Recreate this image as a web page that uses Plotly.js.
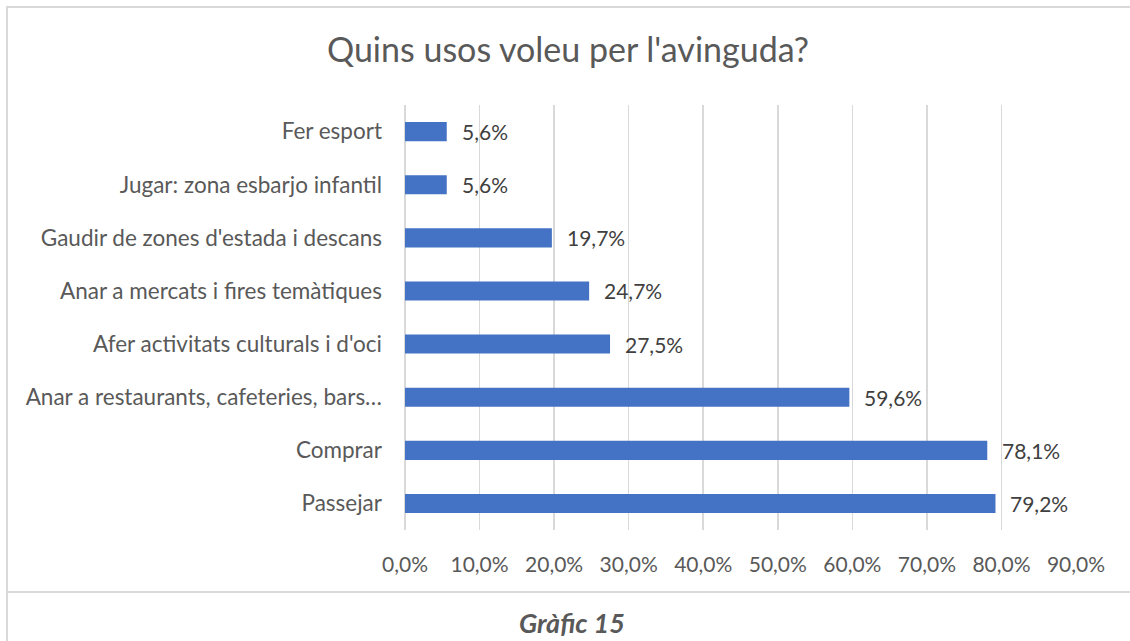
<!DOCTYPE html>
<html>
<head>
<meta charset="utf-8">
<script src="https://cdn.plot.ly/plotly-3.0.1.min.js"></script>
<style>
html,body{margin:0;padding:0;background:#fff;}
#wrap{position:relative;width:1130px;height:641px;overflow:hidden;}
#chart{position:absolute;left:0;top:0;width:1130px;height:641px;}
.bl{position:absolute;background:#d9d9d9;pointer-events:none;}
</style>
</head>
<body>
<div id="wrap">
<div id="chart"></div>
<div class="bl" style="left:6px;top:6px;width:1124px;height:2px;"></div>
<div class="bl" style="left:6px;top:6px;width:2px;height:635px;"></div>
<div class="bl" style="left:6px;top:591px;width:1124px;height:2px;"></div>
</div>
<script>
const categories = ["Fer esport", "Jugar: zona esbarjo infantil", "Gaudir de zones d'estada i descans", "Anar a mercats i fires temàtiques", "Afer activitats culturals i d'oci", "Anar a restaurants, cafeteries, bars…", "Comprar", "Passejar"];
const values = [5.6, 5.6, 19.7, 24.7, 27.5, 59.6, 78.1, 79.2];
const tickValues = [0, 10, 20, 30, 40, 50, 60, 70, 80, 90];
const tickLabels = ["0,0%", "10,0%", "20,0%", "30,0%", "40,0%", "50,0%", "60,0%", "70,0%", "80,0%", "90,0%"];
const valueLabels = ["5,6%", "5,6%", "19,7%", "24,7%", "27,5%", "59,6%", "78,1%", "79,2%"];
const chartTitle = "Quins usos voleu per l'avinguda?";
const caption = "Gràfic 15";

const W = 1130, H = 641;
const M = {l: 405, r: 54, t: 105, b: 111};
const pw = W - M.l - M.r, ph = H - M.t - M.b;
const FONT = "Lato, 'Open Sans', sans-serif";

const annotations = values.map((v, i) => ({
  x: v, y: categories[i], xref: 'x', yref: 'y',
  text: valueLabels[i], showarrow: false, xanchor: 'left', yanchor: 'middle',
  xshift: 13, font: {family: FONT, size: 21, color: '#404040'}
}));
annotations.push({
  xref: 'paper', yref: 'paper',
  x: (572 - M.l) / pw, y: -(622 - (M.t + ph)) / ph,
  text: '<b><i>' + caption + '</i></b>', showarrow: false,
  xanchor: 'center', yanchor: 'middle',
  font: {family: FONT, size: 27, color: '#595959'}
});

Plotly.newPlot('chart', [{
  type: 'bar', orientation: 'h',
  x: values, y: categories,
  marker: {color: '#4472C4'},
  hoverinfo: 'none'
}], {
  width: W, height: H,
  margin: M,
  paper_bgcolor: '#ffffff', plot_bgcolor: '#ffffff',
  bargap: 0.64,
  showlegend: false,
  title: {text: chartTitle, x: 568 / W, xref: 'container', xanchor: 'center',
          y: 1 - 50 / H, yref: 'container', yanchor: 'middle',
          font: {family: FONT, size: 34, color: '#595959'}},
  xaxis: {range: [0, 90], tickvals: tickValues, ticktext: tickLabels,
          showgrid: true, gridcolor: '#d9d9d9', gridwidth: 1.5,
          zeroline: true, zerolinecolor: '#d9d9d9', zerolinewidth: 1.5,
          showline: false, ticks: '', ticklabelstandoff: 20,
          tickfont: {family: FONT, size: 21, color: '#595959'}, fixedrange: true},
  yaxis: {autorange: 'reversed', showgrid: false, zeroline: false, showline: false,
          ticks: '', ticklabelstandoff: 22,
          tickfont: {family: FONT, size: 22.5, color: '#595959'}, fixedrange: true},
  annotations: annotations
}, {displayModeBar: false, staticPlot: true});
</script>
</body>
</html>
